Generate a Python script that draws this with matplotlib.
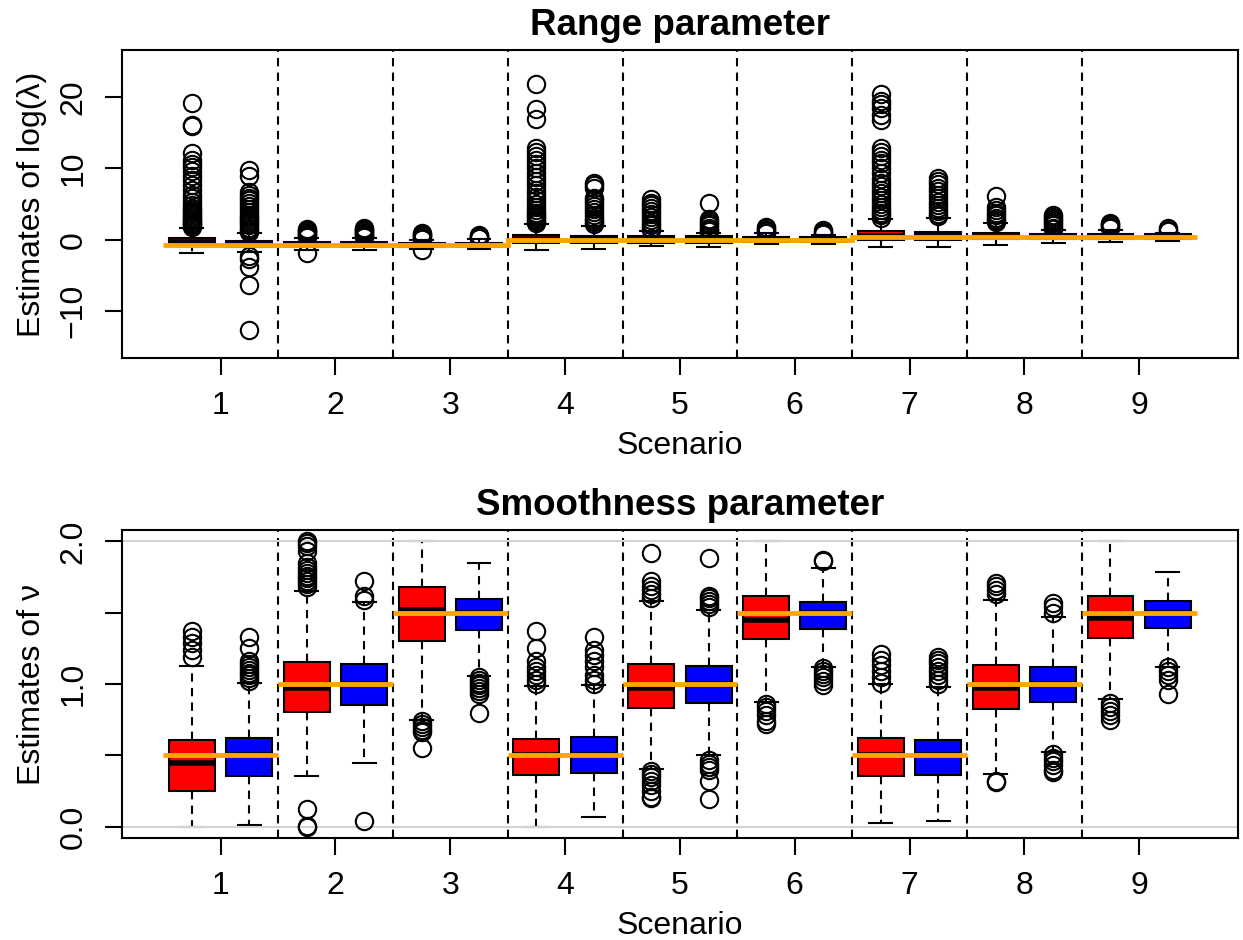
import matplotlib.pyplot as plt
import numpy as np

plt.rcParams['font.family'] = ['Liberation Sans', 'DejaVu Sans']

scenarios = ['1', '2', '3', '4', '5', '6', '7', '8', '9']
true_log_lambda = [-0.69, -0.69, -0.69, 0.0, 0.0, 0.0, 0.35, 0.35, 0.35]
true_nu = [0.5, 1.0, 1.5, 0.5, 1.0, 1.5, 0.5, 1.0, 1.5]

# range parameter, boxes ordered S1 red, S1 blue, S2 red, ...
range_q1 = [-0.45, -1.05, -0.95, -0.95, -1.0, -0.95, -0.5, -0.5, -0.4,
            -0.4, -0.33, -0.33, 0.0, 0.0, 0.1, 0.1, 0.1, 0.15]
range_med = [-0.35, -0.7, -0.7, -0.7, -0.7, -0.7, 0.1, 0.05, 0.0,
             0.0, 0.0, 0.0, 0.55, 0.6, 0.35, 0.35, 0.35, 0.35]
range_q3 = [0.2, -0.25, -0.35, -0.35, -0.45, -0.45, 0.7, 0.56, 0.5,
            0.45, 0.42, 0.35, 1.15, 1.1, 0.9, 0.85, 0.8, 0.75]
range_wlo = [-1.9, -1.7, -1.5, -1.5, -1.3, -1.3, -1.4, -1.3, -0.85,
             -1.0, -0.6, -0.6, -1.0, -1.0, -0.7, -0.5, -0.38, -0.24]
range_whi = [1.6, 0.9, 0.2, 0.2, 0.0, 0.05, 2.2, 1.96, 1.2,
             1.0, 0.9, 0.65, 2.9, 3.1, 2.3, 1.3, 1.35, 1.0]
range_out = [
    [19.1, 16.1, 15.9, 12.1, 11.2, 10.6, 10.2, 9.6, 9.0, 8.4, 7.6, 6.9, 6.3, 5.8,
     5.3, 4.9, 4.5, 4.2, 3.9, 3.6, 3.3, 3.0, 2.8, 2.6, 2.4, 2.2, 2.0, 1.8],
    [9.8, 8.9, 6.7, 6.3, 5.9, 5.5, 5.1, 4.7, 4.3, 3.9, 3.5, 3.2, 2.9, 2.6, 2.3,
     2.0, 1.7, 1.4, 1.1, -2.3, -2.7, -3.9, -6.4, -12.7],
    [1.5, 1.3, 1.2, 1.0, 0.9, 0.7, 0.5, 0.35, -1.9],
    [1.6, 1.5, 1.3, 1.2, 1.0, 0.9, 0.7, 0.5, 0.35],
    [1.0, 0.8, 0.6, 0.45, 0.3, 0.15, -1.5],
    [0.6, 0.5, 0.4, 0.3, 0.2],
    [21.8, 18.3, 16.9, 12.8, 12.3, 11.8, 11.2, 10.6, 10.0, 9.4, 8.8, 8.2, 7.6,
     7.0, 6.5, 6.0, 5.5, 5.0, 4.6, 4.2, 3.8, 3.5, 3.2, 2.9, 2.6, 2.4],
    [8.0, 7.6, 7.2, 5.9, 5.5, 5.1, 4.7, 4.3, 3.9, 3.5, 3.1, 2.8, 2.5, 2.2],
    [5.7, 5.2, 4.8, 4.4, 4.0, 3.6, 3.2, 2.8, 2.4, 2.0, 1.6, 1.4],
    [5.2, 2.9, 2.6, 2.3, 2.0, 1.7, 1.4, 1.2],
    [1.8, 1.6, 1.4, 1.2, 1.0],
    [1.3, 1.1, 0.9, 0.75],
    [20.4, 19.5, 19.0, 18.5, 17.5, 16.8, 12.9, 12.3, 11.7, 11.2, 10.7, 10.0, 9.4,
     8.5, 8.0, 7.5, 7.0, 6.5, 6.0, 5.5, 5.0, 4.6, 4.2, 3.8, 3.4, 3.1],
    [8.6, 8.2, 7.8, 7.3, 6.8, 6.3, 5.8, 5.3, 4.8, 4.4, 4.0, 3.6, 3.3],
    [6.1, 4.6, 4.2, 3.8, 3.4, 3.0, 2.7, 2.5],
    [3.5, 3.2, 2.9, 2.6, 2.3, 2.0, 1.7, 1.5],
    [2.4, 2.2, 2.0, 1.8, 1.6],
    [1.6, 1.4, 1.2],
]

# smoothness parameter
smooth_q1 = [0.247, 0.352, 0.807, 0.853, 1.303, 1.378, 0.359, 0.375, 0.834,
             0.865, 1.315, 1.385, 0.357, 0.359, 0.825, 0.872, 1.326, 1.394]
smooth_med = [0.444, 0.50, 0.97, 1.0, 1.517, 1.5, 0.50, 0.50, 0.97,
              1.0, 1.45, 1.5, 0.50, 0.50, 0.97, 1.0, 1.46, 1.5]
smooth_q3 = [0.608, 0.62, 1.152, 1.14, 1.68, 1.594, 0.615, 0.625, 1.14,
             1.128, 1.615, 1.576, 0.62, 0.608, 1.133, 1.121, 1.615, 1.58]
smooth_wlo = [0.0, 0.012, 0.352, 0.445, 0.748, 1.058, 0.0, 0.065, 0.403,
              0.503, 0.876, 1.117, 0.026, 0.042, 0.371, 0.52, 0.893, 1.121]
smooth_whi = [1.126, 1.005, 1.65, 1.576, 2.0, 1.851, 0.988, 0.993, 1.58,
              1.522, 2.0, 1.81, 0.998, 0.981, 1.587, 1.471, 2.0, 1.786]
smooth_out = [
    [1.37, 1.33, 1.285, 1.24, 1.19],
    [1.33, 1.25, 1.16, 1.14, 1.12, 1.10, 1.08, 1.06, 1.04, 1.02],
    [2.0, 1.99, 1.97, 1.93, 1.85, 1.82, 1.80, 1.78, 1.76, 1.74, 1.72, 1.70, 1.68,
     0.124, 0.0, 0.005],
    [1.72, 1.615, 1.59, 0.042],
    [0.74, 0.72, 0.70, 0.68, 0.66, 0.55],
    [1.05, 1.03, 1.01, 0.99, 0.97, 0.95, 0.93, 0.80],
    [1.37, 1.254, 1.16, 1.12, 1.09, 1.06, 1.03, 1.0],
    [1.331, 1.24, 1.20, 1.16, 1.12, 1.06, 1.03, 1.0],
    [1.92, 1.72, 1.69, 1.66, 1.63, 1.60, 0.39, 0.37, 0.35, 0.32, 0.29, 0.25,
     0.21, 0.20],
    [1.883, 1.62, 1.60, 1.58, 1.56, 1.54, 0.47, 0.44, 0.42, 0.40, 0.317, 0.194],
    [0.86, 0.84, 0.81, 0.78, 0.74, 0.72],
    [1.87, 1.86, 1.11, 1.09, 1.07, 1.05, 1.02, 0.99],
    [1.21, 1.17, 1.13, 1.09, 1.05, 1.01],
    [1.19, 1.17, 1.15, 1.12, 1.09, 1.06, 1.03, 1.0],
    [1.71, 1.69, 1.66, 1.63, 0.32, 0.31],
    [1.57, 1.54, 1.50, 0.51, 0.48, 0.46, 0.43, 0.40, 0.38],
    [0.87, 0.84, 0.81, 0.78, 0.75],
    [1.12, 1.09, 1.06, 1.03, 0.93],
]

box_colors = ['red', 'blue'] * 9
FS = 23


def make_stats(q1, med, q3, wlo, whi, out):
    return [dict(q1=a, med=m, q3=b, whislo=lo, whishi=hi, fliers=f)
            for a, m, b, lo, hi, f in zip(q1, med, q3, wlo, whi, out)]


def draw_panel(ax, stats, title, ylabel):
    pos = np.arange(1, len(stats) + 1)
    bp = ax.bxp(stats, positions=pos, widths=0.8, patch_artist=True,
                boxprops=dict(edgecolor='black', linewidth=1.5),
                medianprops=dict(color='black', linewidth=4, solid_capstyle='butt'),
                whiskerprops=dict(color='black', linewidth=1.5, linestyle=(0, (4, 3))),
                capprops=dict(color='black', linewidth=1.5),
                flierprops=dict(marker='o', markerfacecolor='none',
                                markeredgecolor='black', markersize=12.5,
                                markeredgewidth=1.5, zorder=3))
    for patch, c in zip(bp['boxes'], box_colors):
        patch.set_facecolor(c)
    for xv in np.arange(2.5, 17, 2):
        ax.axvline(xv, color='black', lw=1.5, ls=(0, (4, 3)), zorder=1)
    ax.set_xlim(-0.22, 19.22)
    ax.set_xticks(np.arange(1.5, 18, 2))
    ax.set_xticklabels(scenarios)
    ax.set_xlabel('Scenario', fontsize=FS, labelpad=7)
    ax.set_ylabel(ylabel, fontsize=FS, labelpad=8)
    ax.set_title(title, fontsize=26.5, fontweight='bold', pad=11)
    ax.tick_params(direction='out', length=12, width=1.5, labelsize=FS, pad=12)
    plt.setp(ax.get_yticklabels(), rotation=90, va='center')
    for s in ax.spines.values():
        s.set_linewidth(1.5)


fig = plt.figure(figsize=(12.43, 9.4), dpi=100)
ax1 = fig.add_axes([0.0981, 0.6191, 0.8978, 0.3277])
ax2 = fig.add_axes([0.0981, 0.1085, 0.8978, 0.3277])

edges = np.arange(0.5, 19, 2)

draw_panel(ax1, make_stats(range_q1, range_med, range_q3, range_wlo, range_whi, range_out),
           'Range parameter', 'Estimates of log(λ)')
ax1.stairs(true_log_lambda, edges, color='orange', lw=3.5, baseline=None, zorder=4)
ax1.set_ylim(-16.6, 26.6)
ax1.set_yticks([-10, 0, 10, 20])

draw_panel(ax2, make_stats(smooth_q1, smooth_med, smooth_q3, smooth_wlo, smooth_whi, smooth_out),
           'Smoothness parameter', 'Estimates of ν')
ax2.axhline(0, color='lightgrey', lw=1.5, zorder=2.5)
ax2.axhline(2, color='lightgrey', lw=1.5, zorder=2.5)
ax2.hlines(true_nu, edges[:-1], edges[1:], color='orange', lw=3.5, zorder=4)
ax2.set_ylim(-0.08, 2.08)
ax2.set_yticks([0, 0.5, 1, 1.5, 2])
ax2.set_yticklabels(['0.0', '', '1.0', '', '2.0'])

fig.savefig('out.png', dpi=100)
